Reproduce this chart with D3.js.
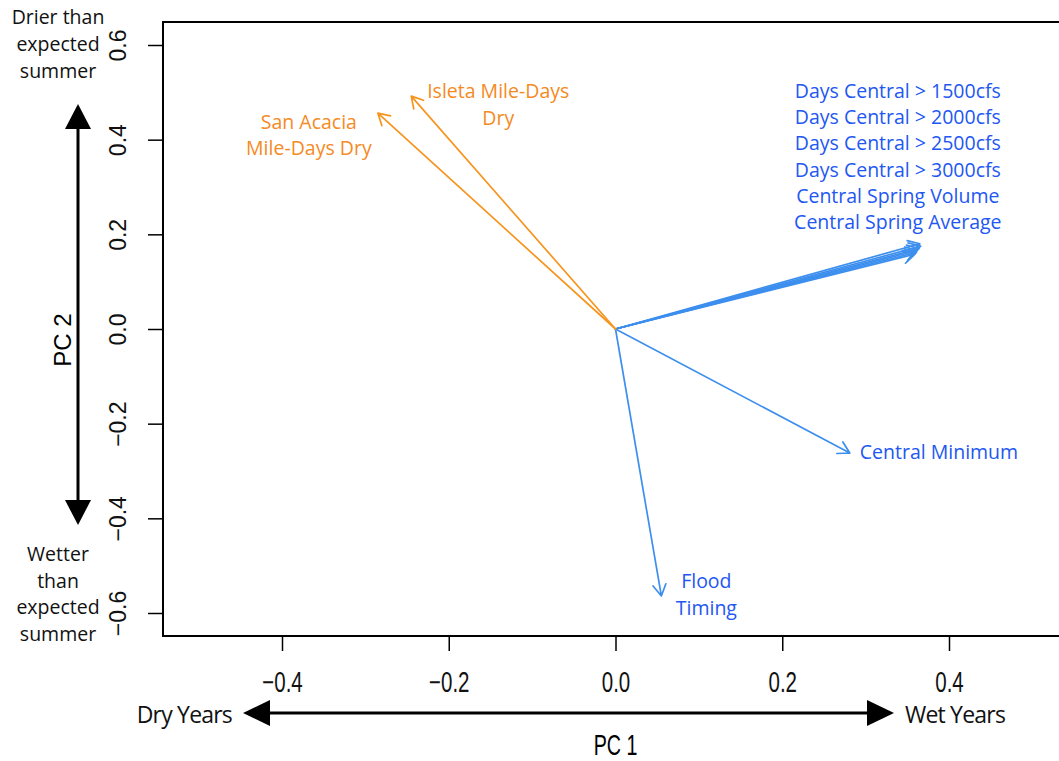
<!DOCTYPE html>
<html>
<head>
<meta charset="utf-8">
<script src="https://cdn.jsdelivr.net/npm/d3@7"></script>
<style>
  body { margin: 0; background: #fff; }
  svg { display: block; }
</style>
</head>
<body>
<div id="showBox"></div>
<script>
// loading vectors (PC1, PC2)
const variables = ["Days Central > 1500cfs", "Days Central > 2000cfs", "Days Central > 2500cfs",
    "Days Central > 3000cfs", "Central Spring Volume", "Central Spring Average",
    "Central Minimum", "Flood Timing", "Isleta Mile-Days Dry", "San Acacia Mile-Days Dry"]
const pc1 = [0.365, 0.366, 0.364, 0.362, 0.361, 0.359, 0.281, 0.055, -0.245, -0.285]
const pc2 = [0.180, 0.175, 0.170, 0.166, 0.162, 0.158, -0.262, -0.564, 0.492, 0.456]
const group = ["flow", "flow", "flow", "flow", "flow", "flow", "flow", "flow", "dry", "dry"]

const xTicks = [-0.4, -0.2, 0.0, 0.2, 0.4]
const yTicks = [-0.6, -0.4, -0.2, 0.0, 0.2, 0.4, 0.6]

const W = 1059, H = 761
const lineColor = {flow: "#3d8fee", dry: "#f7941d"}
const textColor = {flow: "#2257f2", dry: "#f58a1f"}
const labelFont = "'Open Sans', sans-serif"
const axisFont = "'Liberation Sans', Arial, sans-serif"

// label blocks, placed as pixel offsets from the tip of one vector
const labelLayout = [
    {ref: 0, lines: variables.slice(0, 6), dx: -22, dy: -154, anchor: "middle", step: 26.3},
    {ref: 6, lines: ["Central Minimum"], dx: 10, dy: -2, anchor: "start", step: 26},
    {ref: 7, lines: ["Flood", "Timing"], dx: 45, dy: -16, anchor: "middle", step: 27},
    {ref: 8, lines: ["Isleta Mile-Days", "Dry"], dx: 87, dy: -6, anchor: "middle", step: 27},
    {ref: 9, lines: ["San Acacia", "Mile-Days Dry"], dx: -69, dy: 8, anchor: "middle", step: 26}
]

const x = d3.scaleLinear().domain([-0.4, 0.4]).range([282, 949])
const y = d3.scaleLinear().domain([-0.6, 0.6]).range([613, 45])
const box = {left: 163, right: 1075, top: 22, bottom: 636}

const svg = d3.select("#showBox").append("svg")
    .attr("width", W).attr("height", H)

svg.append("rect")
    .attr("x", box.left).attr("y", box.top)
    .attr("width", box.right - box.left).attr("height", box.bottom - box.top)
    .attr("fill", "none").attr("stroke", "#000").attr("stroke-width", 2)

// x axis
const gx = svg.append("g")
    .attr("transform", `translate(0,${box.bottom})`)
    .call(d3.axisBottom(x).tickValues(xTicks).tickFormat(d3.format(".1f")).tickSize(15).tickSizeOuter(0))
gx.select(".domain").remove()
gx.selectAll(".tick line").attr("stroke", "#000").attr("stroke-width", 1.5)
gx.selectAll(".tick text")
    .attr("y", 0).attr("dy", null)
    .attr("transform", "translate(0,56) scale(0.82,1.15)")
    .attr("font-family", axisFont).attr("font-size", 25).attr("fill", "#111")

// y axis
const gy = svg.append("g")
    .attr("transform", `translate(${box.left},0)`)
    .call(d3.axisLeft(y).tickValues(yTicks).tickFormat(d3.format(".1f")).tickSize(15).tickSizeOuter(0))
gy.select(".domain").remove()
gy.selectAll(".tick line").attr("stroke", "#000").attr("stroke-width", 1.5)
gy.selectAll(".tick text")
    .attr("x", null).attr("dy", null)
    .attr("text-anchor", "middle")
    .attr("transform", "translate(-37,0) rotate(-90)")
    .attr("font-family", axisFont).attr("font-size", 23).attr("fill", "#111")

// axis titles
svg.append("text")
    .attr("transform", "translate(71,340) rotate(-90)")
    .attr("text-anchor", "middle")
    .attr("font-family", axisFont).attr("font-size", 24)
    .text("PC 2")
svg.append("text")
    .attr("transform", `translate(${x(0)},755) scale(0.82,1.2)`)
    .attr("text-anchor", "middle")
    .attr("font-family", axisFont).attr("font-size", 24)
    .text("PC 1")

// direction arrows outside plot
svg.append("line").attr("x1", 78).attr("x2", 78).attr("y1", 125).attr("y2", 503)
    .attr("stroke", "#000").attr("stroke-width", 3)
svg.append("path").attr("d", "M78,104 L65,129 L91,129 Z").attr("fill", "#000")
svg.append("path").attr("d", "M78,525 L65,500 L91,500 Z").attr("fill", "#000")

svg.append("line").attr("x1", 265).attr("x2", 872).attr("y1", 713).attr("y2", 713)
    .attr("stroke", "#000").attr("stroke-width", 3)
svg.append("path").attr("d", "M243,713 L270,700 L270,726 Z").attr("fill", "#000")
svg.append("path").attr("d", "M894,713 L867,700 L867,726 Z").attr("fill", "#000")

const note = (lines, cx, y0, step, size) => {
    const t = svg.append("text")
        .attr("text-anchor", "middle")
        .attr("font-family", labelFont).attr("font-size", size).attr("fill", "#111")
    lines.forEach((s, i) => t.append("tspan").attr("x", cx).attr("y", y0 + i * step).text(s))
}
note(["Drier than", "expected", "summer"], 58, 24, 27, 19.5)
note(["Wetter", "than", "expected", "summer"], 58, 561, 26.5, 19.5)

svg.append("text").attr("x", 232).attr("y", 723).attr("text-anchor", "end")
    .attr("font-family", labelFont).attr("font-size", 23).attr("fill", "#111")
    .attr("letter-spacing", -0.8).text("Dry Years")
svg.append("text").attr("x", 905).attr("y", 723).attr("text-anchor", "start")
    .attr("font-family", labelFont).attr("font-size", 23).attr("fill", "#111")
    .attr("letter-spacing", -0.8).text("Wet Years")

// loading vectors
const vecs = variables.map((v, i) => ({name: v, x: pc1[i], y: pc2[i], g: group[i]}))
const x0 = x(0), y0 = y(0)
const headLen = 13, headAng = Math.PI / 6

const arrowPath = d => {
    const tx = x(d.x), ty = y(d.y)
    const a = Math.atan2(ty - y0, tx - x0)
    const p1 = [tx - headLen * Math.cos(a - headAng), ty - headLen * Math.sin(a - headAng)]
    const p2 = [tx - headLen * Math.cos(a + headAng), ty - headLen * Math.sin(a + headAng)]
    return `M${x0},${y0}L${tx},${ty}M${p1[0]},${p1[1]}L${tx},${ty}L${p2[0]},${p2[1]}`
}

svg.append("g")
    .attr("fill", "none")
    .attr("stroke-width", 1.7)
    .attr("stroke-linecap", "round")
    .attr("stroke-linejoin", "round")
    .selectAll("path")
    .data(vecs)
    .join("path")
    .attr("stroke", d => lineColor[d.g])
    .attr("d", arrowPath)

// labels
labelLayout.forEach(l => {
    const d = vecs[l.ref]
    const t = svg.append("text")
        .attr("text-anchor", l.anchor)
        .attr("dominant-baseline", "central")
        .attr("font-family", labelFont).attr("font-size", 19.5)
        .attr("fill", textColor[d.g])
    l.lines.forEach((s, i) => t.append("tspan")
        .attr("x", x(d.x) + l.dx)
        .attr("y", y(d.y) + l.dy + i * l.step)
        .text(s))
})
</script>
</body>
</html>
